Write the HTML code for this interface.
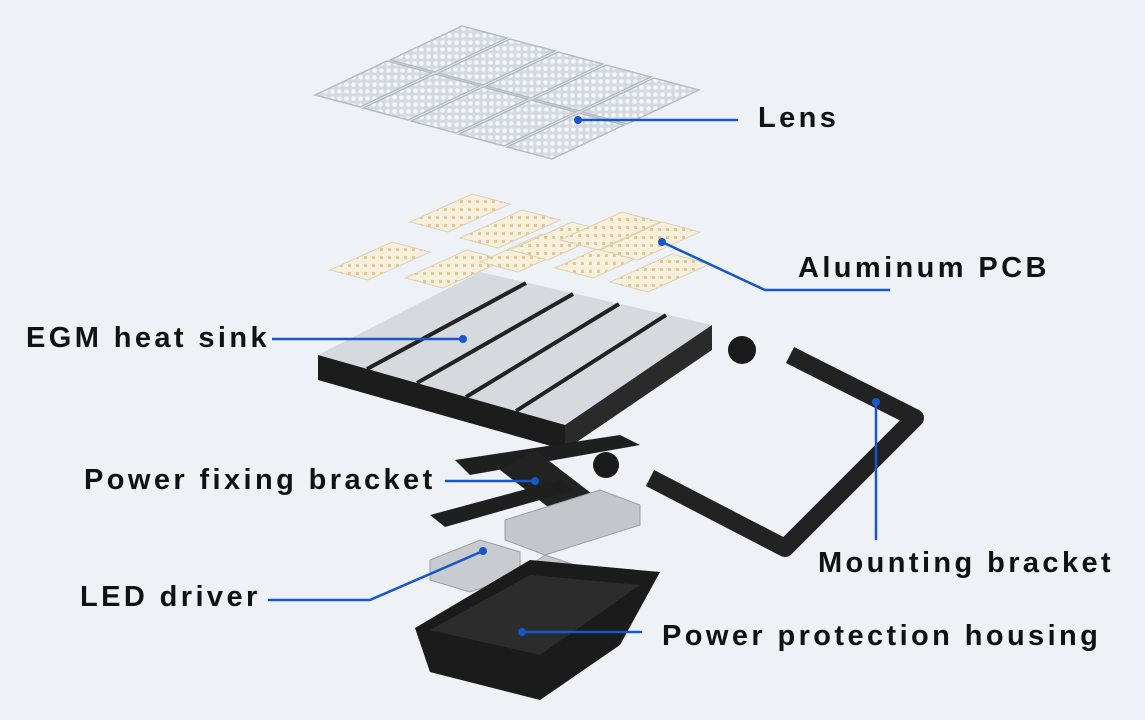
<!DOCTYPE html>
<html><head><meta charset="utf-8"><style>
html,body{margin:0;padding:0;background:#eef2f7;}
svg{display:block}
text{font-family:"Liberation Sans",sans-serif;font-weight:bold;font-size:29px;letter-spacing:3.4px;fill:#111}
</style></head><body>
<svg width="1145" height="720" viewBox="0 0 1145 720">
<defs>
<pattern id="dots" width="7" height="7" patternUnits="userSpaceOnUse"><rect width="7" height="7" fill="#d5dae0"/><circle cx="3.5" cy="3.5" r="2.3" fill="#f4f6f8"/></pattern>
<pattern id="leds" width="8" height="8" patternUnits="userSpaceOnUse"><rect width="8" height="8" fill="#f5efdc"/><rect x="2" y="2" width="3" height="3" fill="#e0c98e"/></pattern>
<g id="lt"><polygon points="0,0 72,-34 117,-22 45,12" fill="url(#dots)" stroke="#b5bcc4" stroke-width="1.5"/></g>
<g id="pt"><polygon points="0,0 62,-28 100,-18 38,10" fill="url(#leds)" stroke="#ddd2b5" stroke-width="1"/></g>
</defs>
<use href="#lt" x="315" y="95"/><use href="#lt" x="363" y="108"/><use href="#lt" x="411" y="121"/><use href="#lt" x="459" y="134"/><use href="#lt" x="507" y="147"/>
<use href="#lt" x="390" y="60"/><use href="#lt" x="438" y="73"/><use href="#lt" x="486" y="86"/><use href="#lt" x="534" y="99"/><use href="#lt" x="582" y="112"/>
<use href="#pt" x="330" y="270"/><use href="#pt" x="405" y="278"/><use href="#pt" x="480" y="262"/><use href="#pt" x="555" y="268"/><use href="#pt" x="610" y="282"/>
<use href="#pt" x="410" y="222"/><use href="#pt" x="460" y="238"/><use href="#pt" x="510" y="250"/><use href="#pt" x="560" y="240"/><use href="#pt" x="600" y="250"/>
<polygon points="318,355 480,272 712,325 565,425" fill="#d6d9dd"/>
<g stroke="#222" stroke-width="4">
<line x1="367" y1="369" x2="526" y2="283"/><line x1="417" y1="383" x2="573" y2="294"/><line x1="466" y1="397" x2="619" y2="304"/><line x1="516" y1="411" x2="666" y2="315"/>
</g>
<polygon points="318,355 565,425 565,450 318,380" fill="#1c1c1c"/>
<polygon points="565,425 712,325 712,350 565,450" fill="#2a2a2a"/>
<polygon points="455,460 620,435 640,445 470,475" fill="#1f1f1f"/>
<polygon points="500,470 535,450 600,500 565,520" fill="#222"/>
<polygon points="430,515 560,480 575,490 445,527" fill="#1f1f1f"/>
<polygon points="505,520 600,490 640,505 640,525 545,555 505,540" fill="#c3c6ca" stroke="#9a9ea3"/>
<polygon points="430,560 480,540 520,552 520,575 470,592 430,580" fill="#c8cbcf" stroke="#9a9ea3"/>
<polygon points="495,590 545,555 575,565 575,590 525,620 495,610" fill="#c3c6ca" stroke="#9a9ea3"/>
<polygon points="415,628 530,560 660,572 620,645 540,700 430,672" fill="#1b1b1b"/>
<polygon points="430,630 530,575 640,585 540,655" fill="#2c2c2c"/>
<polyline points="790,355 915,418 785,548 650,478" fill="none" stroke="#222" stroke-width="18" stroke-linejoin="round"/>
<circle cx="742" cy="350" r="14" fill="#1a1a1a"/><circle cx="606" cy="465" r="13" fill="#1a1a1a"/>
<g stroke="#1757c9" stroke-width="2.5" fill="none">
<line x1="578" y1="120" x2="738" y2="120"/>
<polyline points="662,242 765,290 890,290"/>
<line x1="272" y1="339" x2="463" y2="339"/>
<line x1="445" y1="481" x2="535" y2="481"/>
<polyline points="268,600 370,600 483,551"/>
<line x1="876" y1="402" x2="876" y2="540"/>
<line x1="522" y1="632" x2="642" y2="632"/>
</g>
<g fill="#1757c9">
<circle cx="578" cy="120" r="4"/><circle cx="662" cy="242" r="4"/><circle cx="463" cy="339" r="4"/><circle cx="535" cy="481" r="4"/><circle cx="483" cy="551" r="4"/><circle cx="876" cy="402" r="4"/><circle cx="522" cy="632" r="4"/>
</g>
<text x="758" y="127">Lens</text>
<text x="798" y="277">Aluminum PCB</text>
<text x="26" y="347">EGM heat sink</text>
<text x="84" y="489">Power fixing bracket</text>
<text x="80" y="606">LED driver</text>
<text x="818" y="572">Mounting bracket</text>
<text x="662" y="645">Power protection housing</text>
</svg>
</body></html>
